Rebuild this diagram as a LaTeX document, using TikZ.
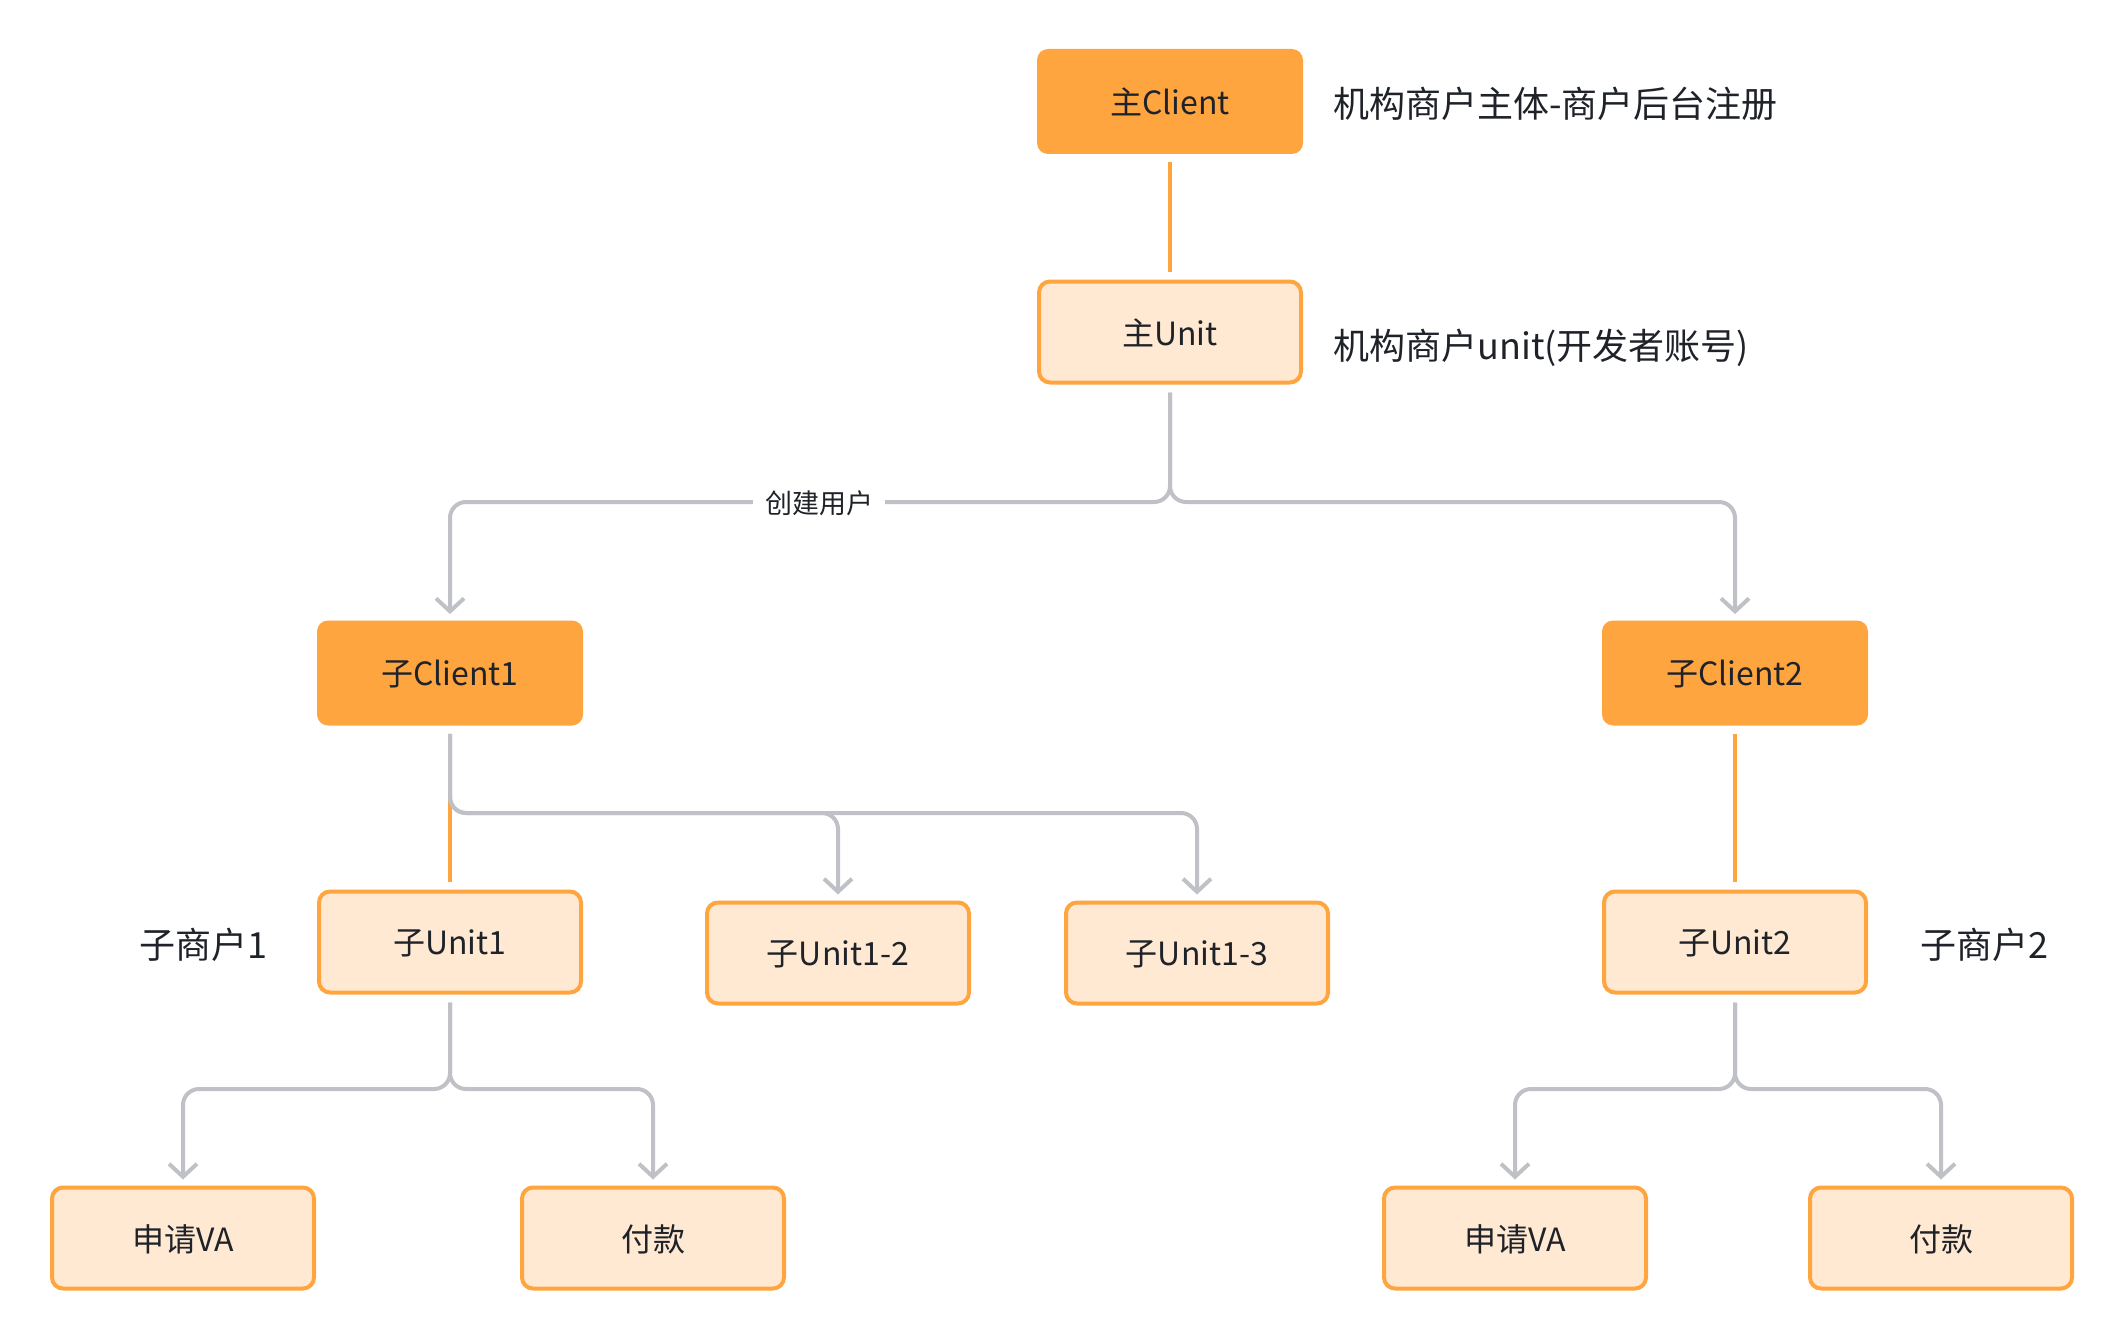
\documentclass[tikz,border=0pt]{standalone}
\usepackage{fontspec}
\setmainfont{Noto Sans CJK SC}
\usetikzlibrary{arrows.meta}
\definecolor{dk}{HTML}{FFA53F}
\definecolor{lt}{HTML}{FFE9D2}
\definecolor{gl}{HTML}{BFC1C6}
\definecolor{tx}{HTML}{1F2329}
\begin{document}
\begin{tikzpicture}[x=0.5pt,y=-0.5pt,
  clientbox/.style={rectangle, rounded corners=5.5pt, fill=dk, minimum width=133pt, minimum height=52.5pt, text=tx, font=\fontsize{16}{18}\selectfont, inner sep=0pt, text depth=0pt},
  unitbox/.style={rectangle, rounded corners=5.5pt, fill=lt, draw=dk, line width=2pt, minimum width=131pt, minimum height=50.5pt, text=tx, font=\fontsize{16}{18}\selectfont, inner sep=0pt, text depth=0pt},
  sidelabel/.style={text=tx, font=\fontsize{18}{20}\selectfont, inner sep=0pt},
  edgelabel/.style={text=tx, font=\fontsize{13.5}{15}\selectfont, fill=white, inner xsep=6pt, inner ysep=2pt},
  grayline/.style={draw=gl, line width=2pt, rounded corners=8pt, shorten <=4pt},
  grayarrow/.style={grayline, -{Straight Barb[length=6.5pt,width=14pt]}, shorten >=3pt},
  orangeline/.style={draw=dk, line width=2pt, shorten <=4pt, shorten >=4pt}
]
\useasboundingbox (0,0) rectangle (2122,1338);

% nodes
\node[clientbox] (mc) at (1170,101.5) {主Client};
\node[unitbox] (mu) at (1170,332) {主Unit};
\node[sidelabel, anchor=west] (lab1) at (1333,104) {机构商户主体-商户后台注册};
\node[sidelabel, anchor=west] (lab2) at (1333,348) {机构商户unit(开发者账号)};

\node[clientbox] (c1) at (450,673) {子Client1};
\node[clientbox] (c2) at (1735,673) {子Client2};

\node[unitbox] (u1) at (450,942) {子Unit1};
\node[unitbox] (u12) at (838,953) {子Unit1-2};
\node[unitbox] (u13) at (1197,953) {子Unit1-3};
\node[unitbox] (u2) at (1735,942) {子Unit2};

\node[sidelabel] (s1) at (203,945) {子商户1};
\node[sidelabel] (s2) at (1984,945) {子商户2};

\node[unitbox] (va1) at (183,1238) {申请VA};
\node[unitbox] (pay1) at (653,1238) {付款};
\node[unitbox] (va2) at (1515,1238) {申请VA};
\node[unitbox] (pay2) at (1941,1238) {付款};

% connectors
\draw[orangeline] (mc.south) -- (mu.north);

\draw[grayarrow] (mu.south) -- (1170,502) -- (450,502) -- (c1.north);
\draw[grayarrow] (mu.south) -- (1170,502) -- (1735,502) -- (c2.north);
\node[edgelabel] (create) at (819,503) {创建用户};

\coordinate (c1split) at (450,797);
\draw[orangeline, shorten <=0pt] (c1split) -- (u1.north);
\draw[grayarrow] (c1.south) -- (450,813) -- (838,813) -- (u12.north);
\draw[grayarrow] (c1.south) -- (450,813) -- (1197,813) -- (u13.north);

\draw[orangeline] (c2.south) -- (u2.north);

\draw[grayarrow] (u1.south) -- (450,1089) -- (183,1089) -- (va1.north);
\draw[grayarrow] (u1.south) -- (450,1089) -- (653,1089) -- (pay1.north);
\draw[grayarrow] (u2.south) -- (1735,1089) -- (1515,1089) -- (va2.north);
\draw[grayarrow] (u2.south) -- (1735,1089) -- (1941,1089) -- (pay2.north);
\end{tikzpicture}
\end{document}
